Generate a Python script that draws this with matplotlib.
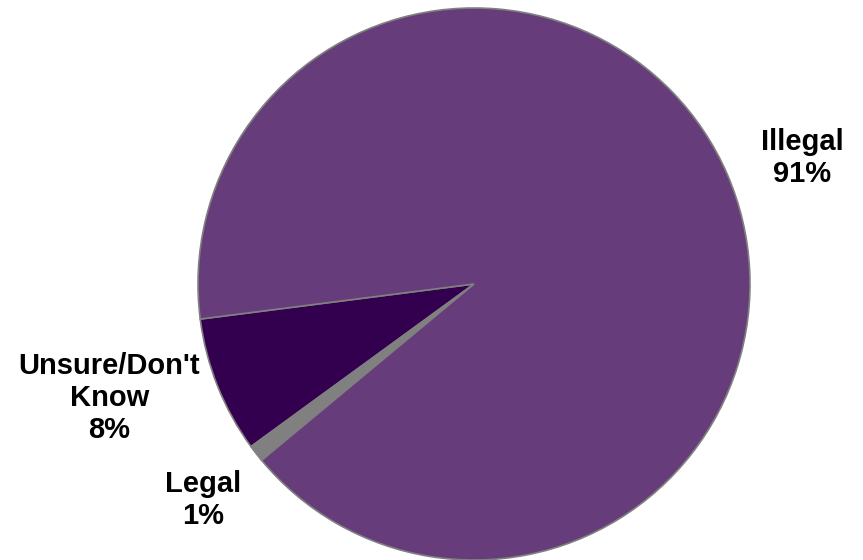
import matplotlib.pyplot as plt

# slice data, counter-clockwise from the start angle
categories = ["Unsure/Don't\nKnow", "Legal", "Illegal"]
shares = [8, 1, 91]
colors = ["#330050", "#808080", "#663D7A"]

# label anchor points in data units (pie radius = 1)
label_x = [-1.322, -0.982, 1.190]
label_y = [-0.413, -0.783, 0.457]

plt.rcParams['font.family'] = ['Liberation Sans', 'DejaVu Sans']

fig = plt.figure(figsize=(8.63, 5.6), dpi=100)
ax = fig.add_axes([0, 0, 1, 1])

ax.pie(shares, colors=colors, startangle=187.3, counterclock=True,
       wedgeprops=dict(edgecolor="#808080", linewidth=1.2))

for name, pct, x, y in zip(categories, shares, label_x, label_y):
    ax.text(x, y, f"{name}\n{pct}%", ha="center", va="center",
            fontsize=21, fontweight="bold", linespacing=1.2)

ax.set_xlim(-474 / 276, (863 - 474) / 276)
ax.set_ylim(-(560 - 284) / 276, 284 / 276)
ax.set_aspect("auto")
ax.axis("off")

fig.savefig("out.png", dpi=100)
